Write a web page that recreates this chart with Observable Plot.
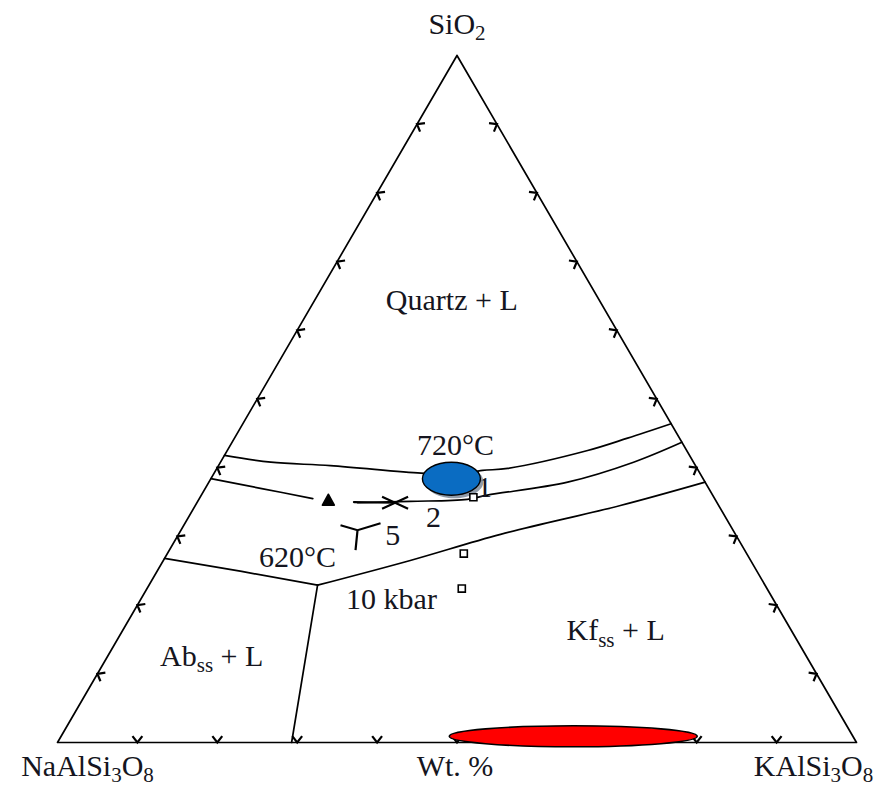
<!DOCTYPE html>
<html><head><meta charset="utf-8">
<script src="https://cdn.jsdelivr.net/npm/d3@7"></script>
<script src="https://cdn.jsdelivr.net/npm/@observablehq/plot@0.6"></script>
<style>html,body{margin:0;padding:0;background:#fff;} #chart{width:886px;height:789px;}</style>
</head><body><div id="chart"></div>
<script>
// Ternary compositions are given as [SiO2 wt%, KAlSi3O8 wt%]; NaAlSi3O8 = remainder.
const vertexLabels = ["SiO_{2}", "NaAlSi_{3}O_{8}", "KAlSi_{3}O_{8}"];
const vertexComps = [[100, 0], [0, 0], [0, 100]];
const axisTitle = "Wt. %";
const tickValues = [10, 20, 30, 40, 50, 60, 70, 80, 90];

// cotectic / phase boundaries
const boundary720 = [[41.8, 0], [40.8, 6.3], [40.3, 14.0], [39.2, 25.9], [39.0, 30.3], [39.6, 33.4], [39.9, 36.4], [42.5, 45.1], [44.3, 49.2], [46.4, 53.6]];
const boundary2kbarLeft = [[38.4, 0], [37.0, 6.9], [35.5, 14.2]];
const boundary2kbarRight = [[34.9, 20.1], [35.1, 26.6], [35.4, 33.6], [36.0, 35.8], [37.9, 44.9], [40.8, 51.7], [43.7, 56.3]];
const boundary10kbarLeft = [[26.8, 0], [24.9, 10.6], [22.9, 21.1]];
const boundary10kbarRight = [[22.9, 21.1], [26.5, 30.9], [30.3, 40.3], [34.5, 53.2], [37.9, 62.1]];
const feldsparBoundary = [[22.9, 21.1], [0, 29.3]];

// minimum-melt symbols
const triangleMin = [[35.2, 16.3]];
const crossMin = [[34.9, 24.8]];
const crossLead = [[35.0, 19.6], [34.9, 24.8]];
const wyeMin = [[30.9, 22.1]];
const squareSamples = [[35.7, 34.2], [27.5, 37.1], [22.4, 39.4]];
const blueHighlight = [[38.4, 30.1]];
const redHighlight = [[0.9, 64.1]];

// labels
const regionTexts = ["Quartz + L", "Ab_{ss} + L", "Kf_{ss} + L", "720°C", "620°C", "10 kbar"];
const regionComps = [[62.9, 17.9], [11.2, 13.7], [14.9, 62.4], [41.8, 28.9], [25.5, 17.3], [19.4, 32.1]];
const pressureTexts = ["2", "5"];
const pressureComps = [[31.3, 31.4], [28.7, 27.6]];
const pressureOneText = ["1"];
const pressureOneComp = [[35.7, 35.6]];

const X = d => (d[1] + d[0] / 2) / 100;
const Y = d => d[0] / 100;

function chevron(bx, by, L = 8, deg = 38) {
  const t = deg * Math.PI / 180, c = Math.cos(t), s = Math.sin(t);
  const a1 = [L * (bx * c - by * s), L * (bx * s + by * c)];
  const a2 = [L * (bx * c + by * s), L * (-bx * s + by * c)];
  return {draw(ctx) { ctx.moveTo(a1[0], a1[1]); ctx.lineTo(0, 0); ctx.lineTo(a2[0], a2[1]); }};
}
function ellipse(rx, ry) {
  const k = 0.5523;
  return {draw(c) {
    c.moveTo(rx, 0);
    c.bezierCurveTo(rx, k * ry, k * rx, ry, 0, ry);
    c.bezierCurveTo(-k * rx, ry, -rx, k * ry, -rx, 0);
    c.bezierCurveTo(-rx, -k * ry, -k * rx, -ry, 0, -ry);
    c.bezierCurveTo(k * rx, -ry, rx, -k * ry, rx, 0);
    c.closePath();
  }};
}
const triSym = {draw(c) { c.moveTo(0, -6.5); c.lineTo(6, 4.5); c.lineTo(-6, 4.5); c.closePath(); }};
const crossSym = {draw(c) { c.moveTo(-13, -6); c.lineTo(13, 6); c.moveTo(-13, 6); c.lineTo(13, -6); }};
const wyeSym = {draw(c) { c.moveTo(-17, -5); c.lineTo(0, 0); c.lineTo(23, -7); c.moveTo(0, 0); c.lineTo(-2, 20); }};

const bottomTicks = tickValues.map(v => [0, v]);
const leftTicks = tickValues.map(v => [v, 0]);
const rightTicks = tickValues.map(v => [v, 100 - v]);
const outline = [vertexComps[0], vertexComps[1], vertexComps[2], vertexComps[0]];

const FONT = "Liberation Serif, Times New Roman, serif";
const FS = 30;
const INK = "#151520";

const lineOpts = {x: X, y: Y, stroke: "black", strokeWidth: 1.7, curve: "catmull-rom"};
const tickOpts = {x: X, y: Y, r: 3, fill: "none", stroke: "black", strokeWidth: 2.2};
const textOpts = {text: d => d, lineAnchor: "bottom", fontFamily: FONT, fontSize: FS, fill: INK};

const chart = Plot.plot({
  width: 886, height: 789,
  marginLeft: 57, marginRight: 30, marginTop: 55, marginBottom: 47,
  x: {domain: [0, 1], axis: null},
  y: {domain: [0, 1], axis: null},
  style: {background: "white"},
  marks: [
    Plot.line(outline, {x: X, y: Y, stroke: "black", strokeWidth: 1.7}),
    Plot.dot(bottomTicks, {...tickOpts, symbol: chevron(0, -1)}),
    Plot.dot(leftTicks, {...tickOpts, symbol: chevron(0.866, 0.5)}),
    Plot.dot(rightTicks, {...tickOpts, symbol: chevron(-0.866, 0.5)}),
    Plot.line(boundary720, lineOpts),
    Plot.line(boundary2kbarLeft, lineOpts),
    Plot.line(boundary2kbarRight, lineOpts),
    Plot.line(boundary10kbarLeft, {...lineOpts, curve: "linear"}),
    Plot.line(boundary10kbarRight, lineOpts),
    Plot.line(feldsparBoundary, {...lineOpts, curve: "linear"}),
    Plot.text(pressureOneText, {...textOpts, x: (d, i) => X(pressureOneComp[i]), y: (d, i) => Y(pressureOneComp[i])}),
    Plot.dot(blueHighlight, {x: X, y: Y, symbol: ellipse(29, 16.5), r: 5, fill: "#7d8a99", dx: 3, dy: 3, fillOpacity: 0.85}),
    Plot.dot(blueHighlight, {x: X, y: Y, symbol: ellipse(29, 16.5), r: 5, fill: "#0a6cc2", stroke: "black", strokeWidth: 1.4}),
    Plot.dot(squareSamples, {x: X, y: Y, symbol: "square", r: 4, fill: "white", stroke: "black", strokeWidth: 1.6}),
    Plot.dot(triangleMin, {x: X, y: Y, symbol: triSym, r: 5, fill: "black", stroke: "black", strokeWidth: 1.5, strokeLinejoin: "round"}),
    Plot.line(crossLead, {x: X, y: Y, stroke: "black", strokeWidth: 2.2}),
    Plot.dot(crossMin, {x: X, y: Y, symbol: crossSym, r: 3, fill: "none", stroke: "black", strokeWidth: 2.2}),
    Plot.dot(wyeMin, {x: X, y: Y, symbol: wyeSym, r: 3, fill: "none", stroke: "black", strokeWidth: 2.2}),
    Plot.text(regionTexts, {...textOpts, x: (d, i) => X(regionComps[i]), y: (d, i) => Y(regionComps[i])}),
    Plot.text(pressureTexts, {...textOpts, x: (d, i) => X(pressureComps[i]), y: (d, i) => Y(pressureComps[i])}),
    Plot.text([vertexLabels[0]], {...textOpts, x: X(vertexComps[0]), y: Y(vertexComps[0]), dy: -22}),
    Plot.text([vertexLabels[1]], {...textOpts, x: X(vertexComps[1]), y: Y(vertexComps[1]), dx: 30, dy: 33}),
    Plot.text([vertexLabels[2]], {...textOpts, x: X(vertexComps[2]), y: Y(vertexComps[2]), dx: -43, dy: 33}),
    Plot.text([axisTitle], {...textOpts, x: X([0, 50]), y: Y([0, 50]), dx: -2, dy: 33}),
    Plot.dot(redHighlight, {x: X, y: Y, symbol: ellipse(124, 10.5), r: 5, fill: "#ff0000", stroke: "black", strokeWidth: 1.6})
  ]
});
document.getElementById("chart").appendChild(chart);

// render "_{...}" as real subscript tspans
d3.select(chart).selectAll("text").each(function () {
  const t = this.textContent;
  if (!t.includes("_{")) return;
  const fs = parseFloat(getComputedStyle(this).fontSize) || FS;
  const parts = t.split(/(_\{[^}]*\})/).filter(p => p.length);
  this.textContent = "";
  let shifted = false;
  const sel = d3.select(this);
  const sh = fs * 0.22;
  for (const p of parts) {
    if (p.startsWith("_{")) {
      sel.append("tspan").attr("font-size", (fs * 0.7) + "px").attr("dy", shifted ? 0 : sh).text(p.slice(2, -1));
      shifted = true;
    } else {
      sel.append("tspan").attr("dy", shifted ? -sh : 0).text(p);
      shifted = false;
    }
  }
});
</script>
</body></html>
